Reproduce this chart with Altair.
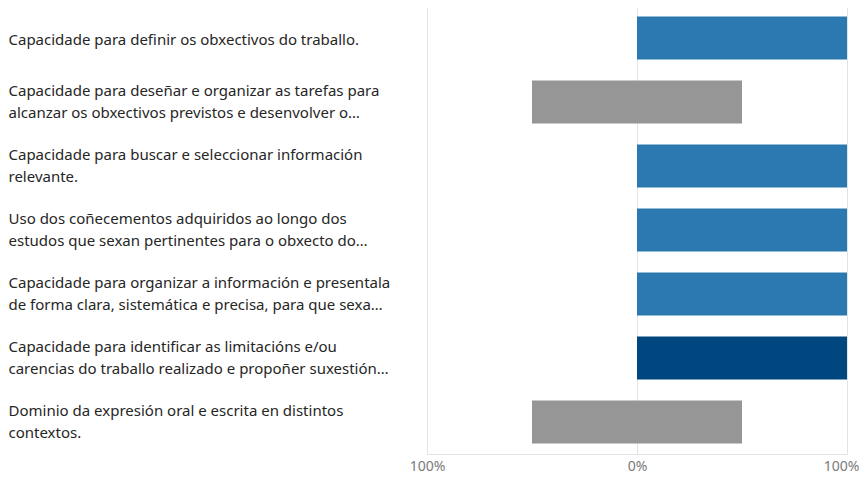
import altair as alt
import pandas as pd

items = [
    "Capacidade para definir os obxectivos do traballo.",
    "Capacidade para deseñar e organizar as tarefas para\nalcanzar os obxectivos previstos e desenvolver o…",
    "Capacidade para buscar e seleccionar información\nrelevante.",
    "Uso dos coñecementos adquiridos ao longo dos\nestudos que sexan pertinentes para o obxecto do…",
    "Capacidade para organizar a información e presentala\nde forma clara, sistemática e precisa, para que sexa…",
    "Capacidade para identificar as limitacións e/ou\ncarencias do traballo realizado e propoñer suxestión…",
    "Dominio da expresión oral e escrita en distintos\ncontextos.",
]
levels = ["Neutral", "Adecuado", "Moi adecuado"]
level_colors = ["#969696", "#2B79B0", "#00467F"]
pct_neutral = [0, 100, 0, 0, 0, 0, 100]
pct_agree = [100, 0, 100, 100, 100, 0, 0]
pct_strong = [0, 0, 0, 0, 0, 100, 0]
tick_values = [-100, 0, 100]

rows = []
for i, it in enumerate(items):
    n, a, s = pct_neutral[i], pct_agree[i], pct_strong[i]
    segs = [
        (levels[0], -n / 2, n / 2),
        (levels[1], n / 2, n / 2 + a),
        (levels[2], n / 2 + a, n / 2 + a + s),
    ]
    for lev, x0, x1 in segs:
        if x1 > x0:
            rows.append({"item": it, "level": lev, "start": x0, "end": x1})
df = pd.DataFrame(rows)

chart = (
    alt.Chart(df)
    .mark_bar()
    .encode(
        x=alt.X(
            "start:Q",
            scale=alt.Scale(domain=[-100, 100], nice=False),
            axis=alt.Axis(
                title=None,
                values=tick_values,
                labelExpr="abs(datum.value) + '%'",
                labelFlush=False,
                labelOffset={
                    "condition": {"test": "datum.value >= 100", "value": -6},
                    "value": 0,
                },
                ticks=False,
                grid=True,
                gridColor="#e3e3e3",
                domainColor="#e3e3e3",
                labelColor="#7a7a7a",
                labelFontSize=14,
                labelFont="Noto Sans",
                labelPadding=5,
            ),
        ),
        x2="end:Q",
        y=alt.Y(
            "item:N",
            sort=items,
            scale=alt.Scale(paddingInner=0.33, paddingOuter=0.165),
            axis=alt.Axis(
                title=None,
                labelExpr="split(datum.label, '\\n')",
                labelAlign="left",
                labelBaseline="middle",
                labelOffset={
                    "condition": {"test": "indexof(datum.value, '\\n') >= 0", "value": -11},
                    "value": 2,
                },
                labelPadding=419,
                labelLimit=420,
                labelFontSize=15,
                labelFont="Noto Sans",
                labelColor="#262626",
                labelLineHeight=22,
                ticks=False,
                domain=False,
                grid=False,
            ),
        ),
        color=alt.Color(
            "level:N",
            scale=alt.Scale(domain=levels, range=level_colors),
            legend=None,
        ),
    )
    .properties(width=420, height=448, padding={"left": 0, "top": -2, "right": 0, "bottom": 0})
    .configure_view(stroke=None)
)

chart.save("out.html", embed_options={"renderer": "svg", "actions": False})
